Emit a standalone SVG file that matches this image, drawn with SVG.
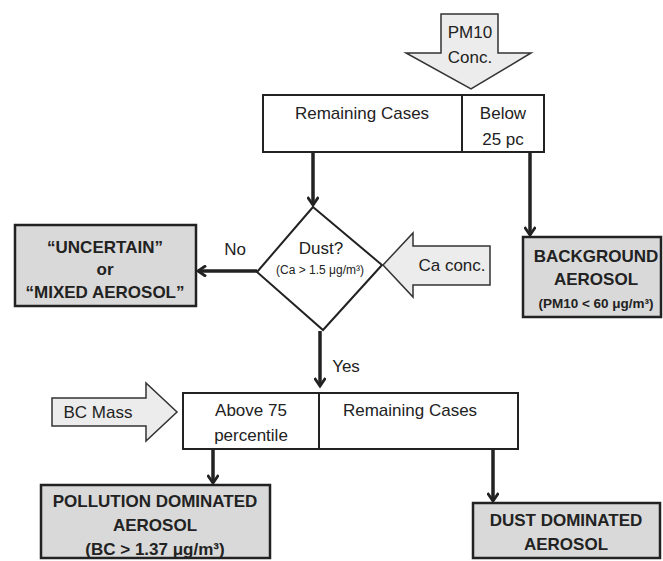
<svg xmlns="http://www.w3.org/2000/svg" width="663" height="561" viewBox="0 0 663 561">
<style>
.box{fill:#fff;stroke:#222;stroke-width:2}
.res{fill:#d9d9d9;stroke:#222;stroke-width:2.5}
.blk{fill:#ececec;stroke:#333;stroke-width:1.5}
.ln{fill:none;stroke:#222;stroke-width:3.5}
text{font-family:"Liberation Sans",Arial,sans-serif;fill:#222;text-anchor:middle}
.t{font-size:17px}
.b{font-size:17px;font-weight:bold}
.s{font-size:12px}
.bs{font-size:13.5px;font-weight:bold}
</style>
<defs>
<marker id="ah" markerWidth="12" markerHeight="12" refX="9" refY="6" orient="auto" markerUnits="userSpaceOnUse" viewBox="0 0 12 12">
<polyline points="1,0.5 9,6 1,11.5" fill="none" stroke="#222" stroke-width="2.8"/>
</marker>
</defs>
<g id="pm10">
<polygon class="blk" points="441,14 498,14 498,53 531,53 471,89 406,53 441,53"/>
<text class="t" x="470" y="38">PM10</text>
<text class="t" x="470" y="63">Conc.</text>
</g>
<g id="top">
<rect class="box" x="263" y="95" width="281" height="57"/>
<line x1="462" y1="95" x2="462" y2="152" stroke="#222" stroke-width="2"/>
<text class="t" x="362" y="119">Remaining Cases</text>
<text class="t" x="503" y="119">Below</text>
<text class="t" x="503" y="145">25 pc</text>
</g>
<g id="dust">
<polygon class="box" points="313,207 382,265 323,330 257,272"/>
<text class="t" x="321" y="254">Dust?</text>
<text class="s" x="320" y="274">(Ca &gt; 1.5 μg/m³)</text>
</g>
<g id="ca">
<polygon class="blk" points="383,265 413,233 413,246 490,246 490,285 413,285 413,297"/>
<text class="t" x="452" y="271">Ca conc.</text>
</g>
<g id="uncertain">
<rect class="res" x="15" y="225" width="181" height="81"/>
<text class="b" x="105" y="253">“UNCERTAIN”</text>
<text class="b" x="105" y="275">or</text>
<text class="b" x="105" y="298">“MIXED AEROSOL”</text>
</g>
<g id="background">
<rect class="res" x="523" y="237" width="138" height="80"/>
<text class="b" x="596" y="262">BACKGROUND</text>
<text class="b" x="596" y="285">AEROSOL</text>
<text class="bs" x="596" y="308">(PM10 &lt; 60 μg/m³)</text>
</g>
<g id="bc">
<polygon class="blk" points="52,398 146,398 146,383 177,412 146,441 146,426 52,426"/>
<text class="t" x="98" y="418">BC Mass</text>
</g>
<g id="bottom">
<rect class="box" x="183" y="393" width="335" height="56"/>
<line x1="319" y1="393" x2="319" y2="449" stroke="#222" stroke-width="2"/>
<text class="t" x="251" y="416">Above 75</text>
<text class="t" x="251" y="441">percentile</text>
<text class="t" x="410" y="416">Remaining Cases</text>
</g>
<g id="pollution">
<rect class="res" x="41" y="485" width="229" height="73"/>
<text class="b" x="155" y="507">POLLUTION DOMINATED</text>
<text class="b" x="155" y="531">AEROSOL</text>
<text class="b" x="155" y="555">(BC &gt; 1.37 μg/m³)</text>
</g>
<g id="dustdom">
<rect class="res" x="473" y="503" width="187" height="55"/>
<text class="b" x="566" y="526">DUST DOMINATED</text>
<text class="b" x="566" y="550">AEROSOL</text>
</g>
<g id="connectors">
<line class="ln" x1="313" y1="152" x2="313" y2="205" marker-end="url(#ah)"/>
<line class="ln" x1="530" y1="152" x2="530" y2="235" marker-end="url(#ah)"/>
<line class="ln" x1="257" y1="271" x2="198" y2="271" marker-end="url(#ah)"/>
<line class="ln" x1="320" y1="331" x2="320" y2="386" marker-end="url(#ah)"/>
<line class="ln" x1="213" y1="449" x2="213" y2="483" marker-end="url(#ah)"/>
<line class="ln" x1="493" y1="449" x2="493" y2="501" marker-end="url(#ah)"/>
<text class="t" x="235" y="255">No</text>
<text class="t" x="346" y="372">Yes</text>
</g>
</svg>
